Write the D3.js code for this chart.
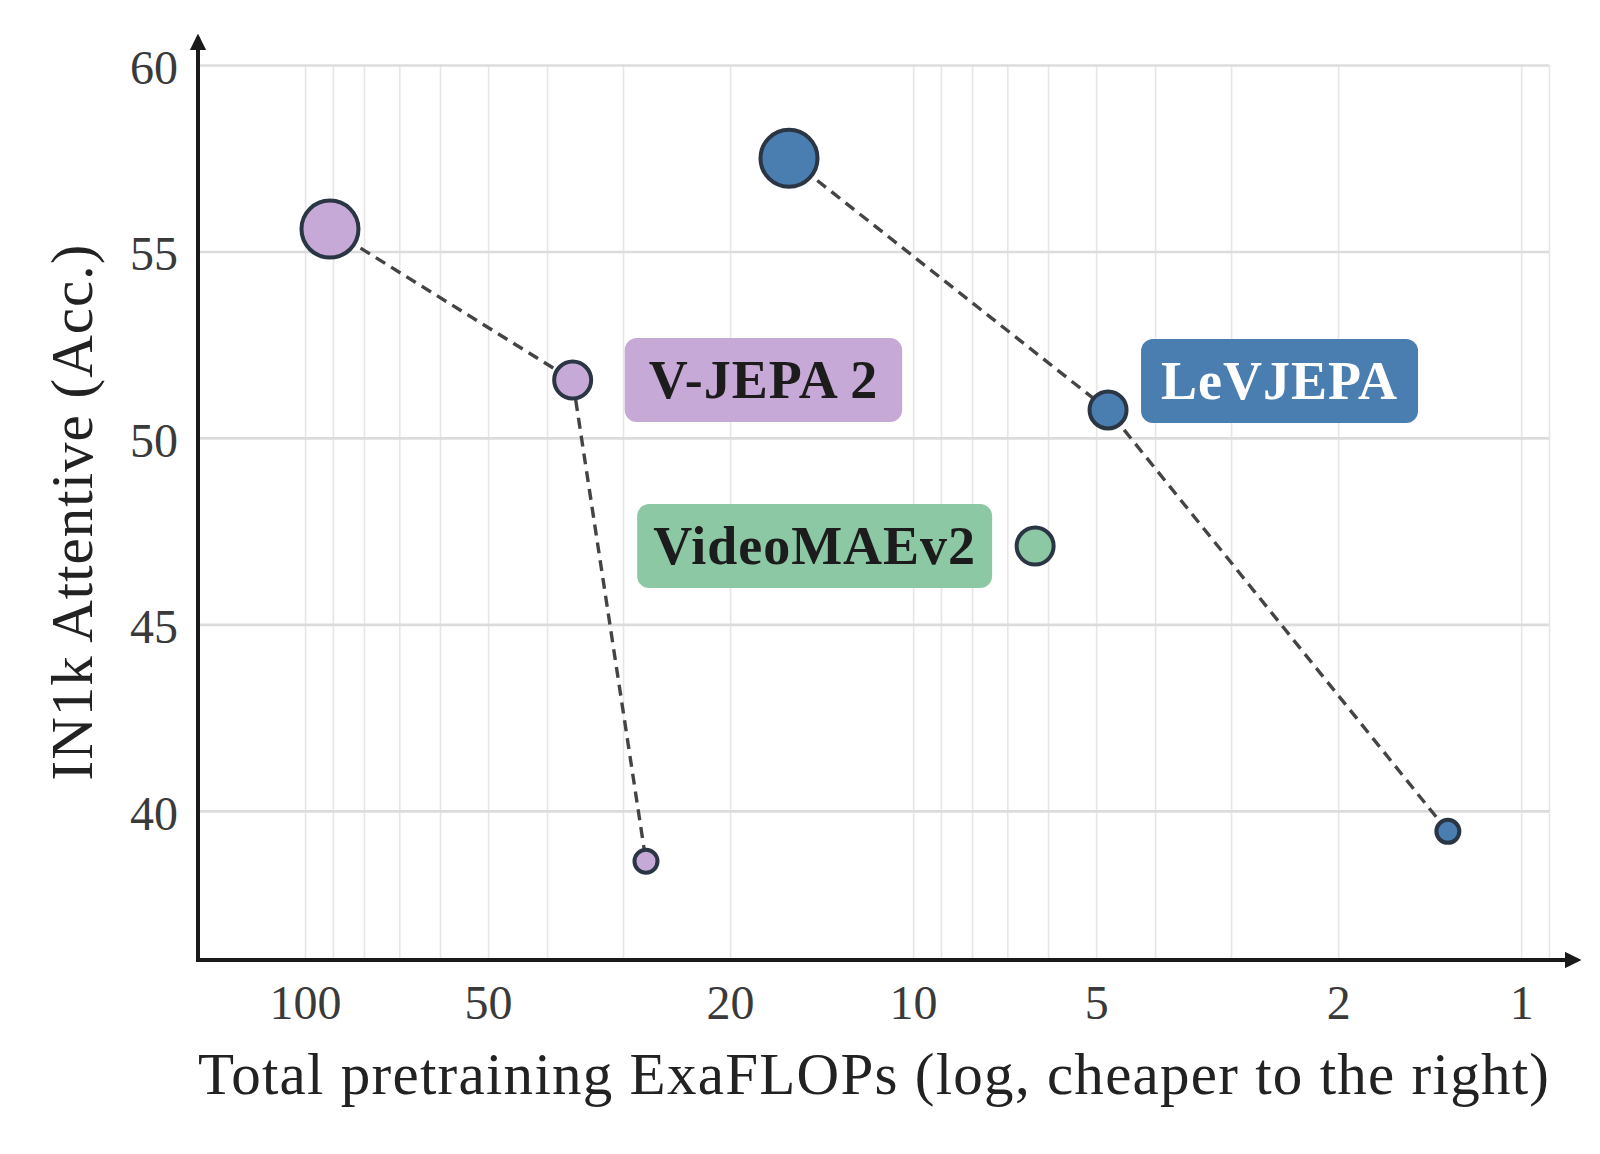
<!DOCTYPE html>
<html>
<head>
<meta charset="utf-8">
<script src="https://cdn.jsdelivr.net/npm/d3@7"></script>
<style>
  body { margin: 0; background: #fff; }
  svg { display: block; }
</style>
</head>
<body>
<div id="chart"></div>
<script>
// data
var vjepaFlops = [91, 36.3, 27.5];
var vjepaAcc = [55.6, 51.55, 38.65];
var vjepaSize = [3, 2, 1];

var levjepaFlops = [16.0, 4.78, 1.32];
var levjepaAcc = [57.5, 50.75, 39.45];
var levjepaSize = [3, 2, 1];

var videomaeFlops = [6.3];
var videomaeAcc = [47.1];
var videomaeSize = [2];

var xTicks = [100, 50, 20, 10, 5, 2, 1];
var yTicks = [40, 45, 50, 55, 60];

var series = [
  {name: 'V-JEPA 2', x: vjepaFlops, y: vjepaAcc, s: vjepaSize, fill: '#c6a9d6', text: '#1c1c1c', line: true,
   label: {at: 1, dx: 52, dy: 0, side: 'right', pad: 24}},
  {name: 'LeVJEPA', x: levjepaFlops, y: levjepaAcc, s: levjepaSize, fill: '#4a7db0', text: '#ffffff', line: true,
   label: {at: 1, dx: 33, dy: -29, side: 'right', pad: 20}},
  {name: 'VideoMAEv2', x: videomaeFlops, y: videomaeAcc, s: videomaeSize, fill: '#8dc8a4', text: '#1c1c1c', line: false,
   label: {at: 0, dx: -43, dy: 0, side: 'left', pad: 16}}
];

(function() {
var width = 1600, height = 1154;
var mLeft = 198, mRight = 1549, mTop = 65, mBottom = 960;

var svg = d3.select('#chart').append('svg')
    .attr('width', width)
    .attr('height', height);

var x = d3.scaleLog().domain([150, 0.9]).range([mLeft, mRight]);
var y = d3.scaleLinear().domain([36, 60]).range([mBottom, mTop]);
var r = d3.scaleOrdinal().domain([1, 2, 3]).range([11.5, 18.5, 28.5]);

// minor vertical grid, 1..9 per decade
var minor = [];
[0.1, 1, 10, 100].forEach(function(dec) {
  for (var k = 1; k <= 9; k++) {
    var v = k * dec;
    if (v <= 150 && v >= 0.9) minor.push(v);
  }
});

svg.append('g')
    .attr('transform', 'translate(0,' + mBottom + ')')
    .call(d3.axisBottom(x).tickValues(minor).tickSize(-(mBottom - mTop)).tickFormat(''))
    .call(function(g) {
      g.select('.domain').remove();
      g.selectAll('line').attr('stroke', '#e6e6e6').attr('stroke-width', 1.6);
    });

svg.append('g')
    .attr('transform', 'translate(' + mLeft + ',0)')
    .call(d3.axisLeft(y).tickValues(yTicks).tickSize(-(mRight - mLeft)).tickFormat(''))
    .call(function(g) {
      g.select('.domain').remove();
      g.selectAll('line').attr('stroke', '#dcdcdc').attr('stroke-width', 2.6);
    });

// tick labels
svg.append('g')
    .attr('transform', 'translate(0,' + mBottom + ')')
    .call(d3.axisBottom(x).tickValues(xTicks).tickSize(0).tickPadding(25).tickFormat(d3.format('d')))
    .call(function(g) {
      g.select('.domain').remove();
      g.selectAll('text')
        .attr('font-family', '"Liberation Serif", serif')
        .attr('font-size', 48)
        .attr('fill', '#3a3a3a')
        .attr('dy', '0.71em');
    });

svg.append('g')
    .attr('transform', 'translate(' + mLeft + ',0)')
    .call(d3.axisLeft(y).tickValues(yTicks).tickSize(0).tickPadding(20).tickFormat(d3.format('d')))
    .call(function(g) {
      g.select('.domain').remove();
      g.selectAll('text')
        .attr('font-family', '"Liberation Serif", serif')
        .attr('font-size', 48)
        .attr('fill', '#3a3a3a')
        .attr('dy', '0.38em');
    });

// axes with arrows
var defs = svg.append('defs');
defs.append('marker')
    .attr('id', 'arrow')
    .attr('viewBox', '0 0 10 10')
    .attr('refX', 8).attr('refY', 5)
    .attr('markerWidth', 4.2).attr('markerHeight', 4.2)
    .attr('markerUnits', 'strokeWidth')
    .attr('orient', 'auto')
  .append('path')
    .attr('d', 'M0,0 L10,5 L0,10 Z')
    .attr('fill', '#1a1a1a');

svg.append('line')
    .attr('x1', mLeft).attr('y1', mBottom)
    .attr('x2', 1578).attr('y2', mBottom)
    .attr('stroke', '#1a1a1a').attr('stroke-width', 4)
    .attr('marker-end', 'url(#arrow)');

svg.append('line')
    .attr('x1', mLeft).attr('y1', mBottom + 2)
    .attr('x2', mLeft).attr('y2', 37)
    .attr('stroke', '#1a1a1a').attr('stroke-width', 4)
    .attr('marker-end', 'url(#arrow)');

// axis titles
svg.append('text')
    .attr('x', (mLeft + mRight) / 2)
    .attr('y', 1094)
    .attr('text-anchor', 'middle')
    .attr('font-family', '"Liberation Serif", serif')
    .attr('font-size', 59)
    .attr('fill', '#222')
    .attr('textLength', mRight - mLeft)
    .attr('lengthAdjust', 'spacing')
    .text('Total pretraining ExaFLOPs (log, cheaper to the right)');

svg.append('text')
    .attr('transform', 'translate(92,' + ((mTop + mBottom) / 2) + ') rotate(-90)')
    .attr('text-anchor', 'middle')
    .attr('font-family', '"Liberation Serif", serif')
    .attr('font-size', 59)
    .attr('fill', '#222')
    .attr('textLength', 536)
    .attr('lengthAdjust', 'spacing')
    .text('IN1k Attentive (Acc.)');

// dashed connecting lines
var line = d3.line()
    .x(function(d) { return x(d[0]); })
    .y(function(d) { return y(d[1]); });

series.filter(function(s) { return s.line; }).forEach(function(s) {
  svg.append('path')
      .datum(d3.zip(s.x, s.y))
      .attr('d', line)
      .attr('fill', 'none')
      .attr('stroke', '#444')
      .attr('stroke-width', 3.4)
      .attr('stroke-dasharray', '11,7');
});

// points
series.forEach(function(s) {
  svg.append('g').selectAll('circle')
      .data(d3.zip(s.x, s.y, s.s))
    .enter().append('circle')
      .attr('cx', function(d) { return x(d[0]); })
      .attr('cy', function(d) { return y(d[1]); })
      .attr('r', function(d) { return r(d[2]); })
      .attr('fill', s.fill)
      .attr('stroke', '#2b3645')
      .attr('stroke-width', 4);
});

// labels
series.forEach(function(s) {
  var px = x(s.x[s.label.at]) + s.label.dx;
  var py = y(s.y[s.label.at]) + s.label.dy;
  var g = svg.append('g');
  var rect = g.append('rect');
  var t = g.append('text')
      .attr('font-family', '"Liberation Serif", serif')
      .attr('font-weight', 'bold')
      .attr('font-size', 54)
      .attr('letter-spacing', 1)
      .attr('fill', s.text)
      .attr('text-anchor', 'middle')
      .attr('dy', '0.34em')
      .text(s.name);
  var w = t.node().getComputedTextLength() + 2 * s.label.pad;
  var cx = s.label.side === 'right' ? px + w / 2 : px - w / 2;
  t.attr('x', cx).attr('y', py);
  rect.attr('x', cx - w / 2).attr('y', py - 42)
      .attr('width', w).attr('height', 84)
      .attr('rx', 12)
      .attr('fill', s.fill);
});
})();
</script>
</body>
</html>
